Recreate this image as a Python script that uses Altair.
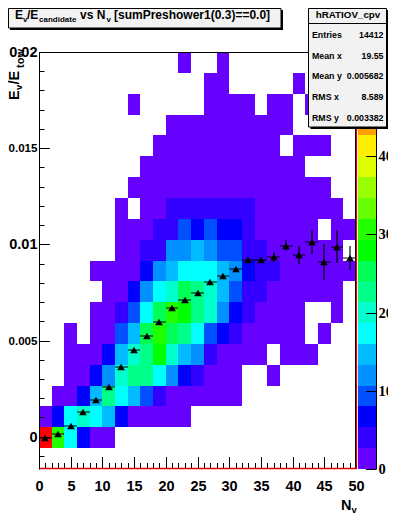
import altair as alt
import numpy as np
import pandas as pd

# ---- data ----
row00 = [0,0,0,0,0,0,0,0,0,0,0,13,0,0,13,0,0,0,0,0,0,0,0,0,0]
row01 = [0,0,0,0,0,0,0,0,0,0,0,0,0,13,13,0,0,0,0,0,13,0,0,0,0]
row02 = [0,0,0,0,0,0,0,13,0,0,0,0,0,13,13,13,13,0,13,13,0,13,0,0,0]
row03 = [0,0,0,0,0,0,0,0,0,0,13,13,13,13,13,13,13,13,13,13,0,0,0,0,0]
row04 = [0,0,0,0,0,0,0,0,0,13,13,13,13,13,13,13,13,13,13,0,13,13,13,0,0]
row05 = [0,0,0,0,0,0,0,0,13,13,13,13,13,13,13,13,13,13,13,13,13,0,0,0,0]
row06 = [0,0,0,0,0,0,0,13,13,13,13,13,13,13,13,13,13,13,13,13,13,13,13,0,0]
row07 = [0,0,0,0,0,0,13,0,13,13,40,40,40,40,40,40,40,13,13,13,13,13,13,13,0]
row08 = [0,0,0,0,0,0,13,13,13,40,40,93,67,93,67,67,40,13,13,13,13,13,0,13,13]
row09 = [0,0,0,0,0,0,13,13,40,40,120,120,146,120,93,93,40,40,13,13,13,13,13,13,0]
row10 = [0,0,0,0,13,13,13,13,67,120,146,173,173,173,146,120,67,40,40,13,13,13,13,13,13]
row11 = [0,0,0,0,0,13,13,67,120,173,200,253,226,200,146,93,40,40,13,13,13,13,13,13,0]
row12 = [0,0,0,0,13,13,40,93,173,253,306,280,226,200,120,67,40,13,13,13,13,0,0,13,0]
row13 = [0,0,13,0,13,13,93,146,253,306,253,226,173,93,67,40,13,13,13,13,13,0,13,0,0]
row14 = [0,0,13,13,13,67,146,200,226,280,200,146,120,40,13,13,13,13,0,13,13,13,0,0,0]
row15 = [0,0,13,13,67,120,200,226,226,173,120,67,40,13,13,13,0,0,13,0,0,0,0,0,0]
row16 = [0,13,13,67,146,226,173,146,93,40,13,13,13,13,13,13,0,0,0,0,0,0,0,0,0]
row17 = [13,67,173,200,173,146,67,13,13,13,13,13,0,0,0,0,0,0,0,0,0,0,0,0,0]
row18 = [520,306,173,67,13,13,0,0,0,0,0,0,0,0,0,0,0,0,0,0,0,0,0,0,0]
rows = [row00,row01,row02,row03,row04,row05,row06,row07,row08,row09,
        row10,row11,row12,row13,row14,row15,row16,row17,row18]

profile_x = [1,3,5,7,9,11,13,15,17,19,21,23,25,27,29,31,33,35,37,39,41,43,45,47,49]
profile_y = [-0.00008,0.00012,0.00057,0.00127,0.00189,0.0026,0.0036,0.00449,0.00522,0.00595,
             0.00667,0.00709,0.00748,0.00806,0.00837,0.00873,0.0092,0.0092,0.00936,0.00993,
             0.00946,0.01014,0.0091,0.00988,0.00929]
profile_err = [0.00004,0.00004,0.00004,0.00004,0.00004,0.00004,0.00004,0.00004,0.00004,0.00004,
               0.00004,0.00004,0.00004,0.00005,0.00005,0.00006,0.00008,0.0001,0.00026,0.0003,
               0.00046,0.00063,0.00094,0.00085,0.0006]

palette = ["#6600ff","#3300ff","#0000ff","#0050ff","#0090ff","#00bbff","#00ffff","#00ffcc",
           "#00ff88","#00ff55","#00ff00","#22ff00","#66ff00","#99ff00","#ddff00","#ffee00",
           "#ffa000","#ff7700","#ff4400","#ff0000"]

stats_names = ["Entries","Mean x","Mean y","RMS x","RMS y"]
stats_values = ["14412","19.55","0.005682","8.589","0.003382"]
bar_tick_values = [0, 100, 200, 300, 400]

X_MIN, X_MAX, Y_MIN, Y_MAX, Z_MAX = 0, 50, -0.00168, 0.02, 533
FONT = "Liberation Sans"
W, H = 317, 417
OX, OY = 39, 52   # page position of the plot's corner

xedges = np.linspace(X_MIN, X_MAX, 26)
yedges = np.linspace(Y_MAX, Y_MIN, 21)
heat = pd.DataFrame([
    {"x0": xedges[c], "x1": xedges[c+1], "y0": yedges[k], "y1": yedges[k+1], "z": v}
    for k, r in enumerate(rows) for c, v in enumerate(r) if v > 0
])
prof = pd.DataFrame({"x": profile_x, "y": profile_y, "e": profile_err})
prof["xl"] = prof.x - 1; prof["xh"] = prof.x + 1
prof["yl"] = prof.y - prof.e; prof["yh"] = prof.y + prof.e

zedges = np.linspace(0, Z_MAX, 21)
bar = pd.DataFrame({"z0": zedges[:-1], "z1": zedges[1:]})
bar["z"] = (bar.z0 + bar.z1) / 2

xs = alt.Scale(domain=[X_MIN, X_MAX], nice=False, zero=False, round=True)
ys = alt.Scale(domain=[Y_MIN, Y_MAX], nice=False, zero=False, round=True)
zs = alt.Scale(domain=[0, Z_MAX], nice=False, zero=False, round=True)
cs = alt.Scale(type="quantize", domain=[0, Z_MAX], range=palette)

axis_font = dict(labelFontWeight="bold", labelColor="black",
                 domainColor="black", ticks=False, grid=False, title=None, labelOverlap=False,
                 labelFlush=False)

xax = alt.Axis(values=list(range(0, 51, 5)), labelPadding=10, domain=False, labelFontSize=14.5,
               labelFont=FONT, zindex=1, **axis_font)
yax = alt.Axis(values=[0, 0.005, 0.01, 0.015, 0.02], format=".3~g", labelPadding=2, labelFont=FONT,
               labelFontSize={"condition": {"test": "datum.value == 0.015 || datum.value == 0.005",
                                             "value": 11.6}, "value": 14.5},
               zindex=1, **axis_font)

heat_layer = alt.Chart(heat).mark_rect().encode(
    x=alt.X("x0:Q", scale=xs, axis=xax),
    x2="x1:Q",
    y=alt.Y("y0:Q", scale=ys, axis=yax),
    y2="y1:Q",
    color=alt.Color("z:Q", scale=cs, legend=None),
)
x_plain = alt.X("x:Q", scale=xs, axis=xax)
y_plain = alt.Y("y:Q", scale=ys, axis=None)

err_y = alt.Chart(prof).mark_rule(color="black", strokeWidth=1.2).encode(
    x=x_plain, y=alt.Y("yl:Q", scale=ys, axis=None), y2="yh:Q")
err_x = alt.Chart(prof).mark_rule(color="black", strokeWidth=1).encode(
    x=alt.X("xl:Q", scale=xs, axis=xax), x2="xh:Q", y=y_plain)
tri = alt.Chart(prof).mark_point(shape="triangle-up", filled=True, color="black", opacity=1, size=60).encode(
    x=x_plain, y=y_plain)

x_major = pd.DataFrame({"x": list(range(0, 51, 5))})
x_minor = pd.DataFrame({"x": [v for v in range(0, 51) if v % 5]})
y_major = pd.DataFrame({"y": [0, 0.005, 0.01, 0.015, 0.02]})
y_minor = pd.DataFrame({"y": [-0.001, 0.001, 0.002, 0.003, 0.004, 0.006, 0.007, 0.008, 0.009,
                              0.011, 0.012, 0.013, 0.014, 0.016, 0.017, 0.018, 0.019]})

def xticks(df, n):
    return alt.Chart(df).mark_rule(color="black", strokeWidth=1, xOffset=0.5).encode(
        x=x_plain, y=alt.value(H), y2=alt.value(H - n))

def yticks(df, n):
    return alt.Chart(df).mark_rule(color="black", strokeWidth=1, yOffset=0.5).encode(
        y=y_plain, x=alt.value(0), x2=alt.value(n))

def hline(x0, x1, y, color="black", w=1):
    return alt.Chart().mark_rule(color=color, strokeWidth=w).encode(
        x=alt.value(x0 - OX), x2=alt.value(x1 - OX), y=alt.value(y - OY))

def vline(x, y0, y1, color="black", w=1):
    return alt.Chart().mark_rule(color=color, strokeWidth=w).encode(
        x=alt.value(x - OX), y=alt.value(y0 - OY), y2=alt.value(y1 - OY))

def box(x0, y0, x1, y1, fill, stroke=None):
    kw = dict(stroke=stroke, strokeWidth=1) if stroke else {}
    return alt.Chart().mark_rect(fill=fill, **kw).encode(
        x=alt.value(x0 - OX), x2=alt.value(x1 - OX), y=alt.value(y0 - OY), y2=alt.value(y1 - OY))

def text(s, x, y, size, align="left", angle=0, font=FONT):
    return alt.Chart().mark_text(text=s, fontSize=size, align=align, baseline="alphabetic", angle=angle,
                                 font=font, fontWeight="bold", color="black").encode(
        x=alt.value(x - OX), y=alt.value(y - OY))

# colour bar
bar_layer = alt.Chart(bar).mark_rect().encode(
    x=alt.value(358 - OX), x2=alt.value(376 - OX),
    y=alt.Y("z0:Q", scale=zs, axis=alt.Axis(orient="right", offset=20, values=bar_tick_values,
                                             labelPadding=2, labelFontSize=14.5,
                                             labelFont="Liberation Sans Narrow", zindex=0, **axis_font)),
    y2="z1:Q",
    color=alt.Color("z:Q", scale=cs, legend=None),
)
bar_ticks = alt.Chart(pd.DataFrame({"t": bar_tick_values})).mark_rule(
    color="black", strokeWidth=1, yOffset=0.5).encode(
    y=alt.Y("t:Q", scale=zs, axis=None), x=alt.value(366 - OX), x2=alt.value(376 - OX))

layers = [heat_layer, xticks(x_major, 12), xticks(x_minor, 6), yticks(y_major, 11), yticks(y_minor, 5.5),
          err_y, err_x, tri,
          hline(39, 356, 52.5), vline(355.5, 52, 469), vline(356.5, 52, 469, "#e00000", 1.2),
          hline(39, 357, 468.5, "#e00000", 1.6),
          bar_layer, bar_ticks]

# title box
layers += [box(10, 10, 283, 30, "black"), box(8.5, 8.5, 281, 28, "#f2f2f2", "black")]
layers += [text("E", 15, 19, 12), text("v", 23, 21.5, 8), text("/E", 27, 19, 12),
           text("candidate", 39, 21.5, 8), text("vs N", 80, 19, 12), text("v", 106.5, 21.5, 8),
           text("[sumPreshower1(0.3)==0.0]", 114, 19, 12)]

# statistics box
layers += [box(310.5, 10, 388, 129, "black"), box(308.5, 8.5, 386.5, 127, "#f2f2f2", "black"),
           hline(308.5, 386.5, 23.5), text("hRATIOV_cpv", 348, 17.5, 9.8, "center")]
for name, val, y in zip(stats_names, stats_values, [37.5, 58.5, 78.5, 100, 120.5]):
    layers += [text(name, 312, y, 8.8), text(val, 383.5, y, 8.8, "right")]

# axis titles
layers += [text("E", 19, 100, 14.5, angle=270), text("v", 22, 90, 9.5, angle=270),
           text("/E", 19, 84.5, 14.5, angle=270), text("tow", 24, 68, 11, angle=270),
           text("N", 341, 509.5, 14.5), text("v", 351.5, 512.5, 9.5)]

chart = alt.layer(*layers).resolve_scale(y="independent").properties(
    width=W, height=H,
    padding={"left": OX - 8, "top": OY - 8, "right": 380 - W - (OX - 8), "bottom": 506 - H - (OY - 8)},
    autosize=alt.AutoSizeParams(type="none"),
    background="white",
).configure_view(stroke=None)

chart.save("out.html", embed_options={"renderer": "svg", "actions": False})
